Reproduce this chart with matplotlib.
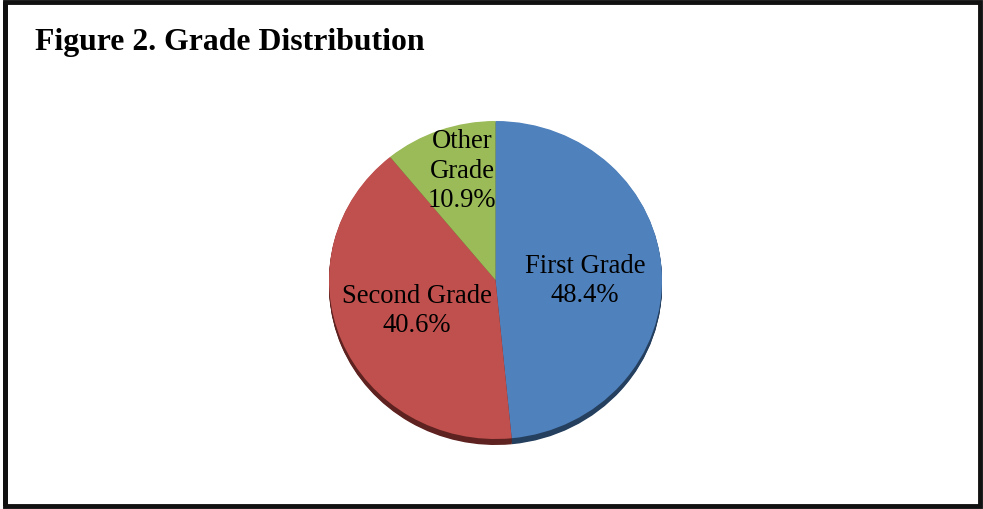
import matplotlib
matplotlib.use("Agg")
import matplotlib.pyplot as plt
from matplotlib.patches import Rectangle

# grade shares, clockwise from 12 o'clock
labels = ["First Grade", "Second Grade", "Other\nGrade"]
shares = [48.4, 40.6, 10.9]
face_colors = ["#4F81BD", "#C0504D", "#9BBB59"]
rim_colors = ["#253f5f", "#5e2220", "#4d5e2b"]

W, H = 983, 509
fig = plt.figure(figsize=(W / 100, H / 100), dpi=100)
fig.patch.set_facecolor("white")

# frame around the chart, heavier on the left/top like a scanned box
frame = fig.add_axes([0, 0, 1, 1])
frame.set_xlim(0, W)
frame.set_ylim(H, 0)
frame.axis("off")
frame.add_patch(Rectangle((5, 2), 975, 504, fill=False, lw=3.5, ec="#111111"))
frame.add_patch(Rectangle((2.5, 2), 5, 504, fc="#111111", ec="none"))
frame.text(35, 42, "Figure 2. Grade Distribution", family="Liberation Serif",
           fontweight="bold", fontsize=22.9, va="center", ha="left")

# pie axes in pixel terms: centre (495.5, 280), radii 166.5 x 159
cx, cy, rx, ry = 495.5, 280, 166.5, 159
half = 200
pax = fig.add_axes([(cx - half) / W, (H - cy - half) / H, 2 * half / W, 2 * half / H])
depth = 6 / ry
steps = 8
for i in range(steps, 0, -1):
    ax_c = (0, -depth * i / steps)
    pax.pie(shares, colors=rim_colors, startangle=90, counterclock=False,
            center=ax_c, wedgeprops=dict(lw=0))
wedges, texts = pax.pie(shares, colors=face_colors, startangle=90,
                        counterclock=False, wedgeprops=dict(lw=0))
pax.set_aspect("auto")
pax.set_xlim(-half / rx, half / rx)
pax.set_ylim(-half / ry, half / ry)
pax.axis("off")

label_font = dict(family="Liberation Serif", fontsize=19.2, ha="center",
                  va="center", linespacing=1.22, zorder=10)
positions = [(585, 281), (417, 311), (462, 171)]
for name, val, (x, y) in zip(labels, shares, positions):
    fig.text(x / W, 1 - y / H, f"{name}\n{val:.1f}%", **label_font)

fig.savefig("out.png", dpi=100)
